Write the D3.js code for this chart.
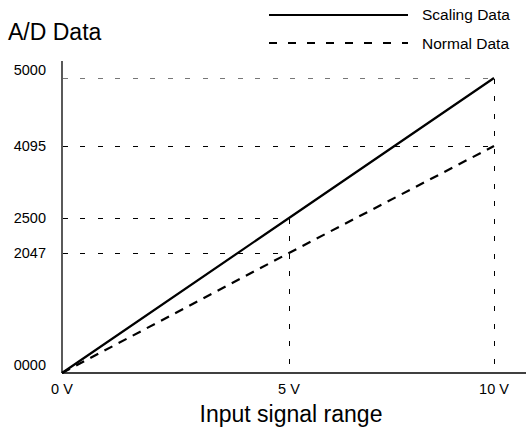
<!DOCTYPE html>
<html><head><meta charset="utf-8">
<script src="https://cdn.jsdelivr.net/npm/d3@7"></script>
<style>body{margin:0;background:#fff}svg{display:block}text{font-family:"Liberation Sans",Arial,sans-serif;fill:#000}</style>
</head><body><svg id="c" width="526" height="431"></svg>
<script>
const voltages = [0, 5, 10];
const voltageLabels = ["0 V", "5 V", "10 V"];
const scalingData = [0, 2500, 5000];
const normalData = [0, 2047, 4095];
const yTicks = [0, 2047, 2500, 4095, 5000];
const yTickLabels = ["0000", "2047", "2500", "4095", "5000"];

const svg = d3.select("#c");
// schematic (non-proportional) axes, as in the reference diagram
const x = d3.scaleLinear().domain([0, 5, 10]).range([62, 289, 494]);
const y = d3.scaleLinear().domain([0, 2047, 2500, 4095, 5000]).range([373, 253, 218, 146, 78]);

// guide lines
const guides = [];
voltages.slice(1).forEach((v, i) => {
  const top = Math.max(scalingData[i + 1], normalData[i + 1]);
  guides.push({x1: x(v), y1: y(top), x2: x(v), y2: y(0), c: "#000"});
});
[[2500, 5], [2047, 5], [4095, 10], [5000, 10]].forEach(([val, v]) => {
  guides.push({x1: x(0), y1: y(val), x2: x(v), y2: y(val), c: val === 5000 ? "#777" : "#000"});
});
svg.append("g").attr("shape-rendering", "crispEdges").selectAll("line").data(guides).join("line")
  .attr("x1", d => d.x1 + 0.5).attr("y1", d => d.y1 + 0.5).attr("x2", d => d.x2 + 0.5).attr("y2", d => d.y2 + 0.5)
  .attr("stroke", d => d.c).attr("stroke-width", 1).attr("stroke-dasharray", "5,12.5");

// axes
svg.append("line").attr("x1", 62).attr("x2", 62).attr("y1", 61).attr("y2", 373).attr("stroke", "#000").attr("stroke-width", 1.3);
svg.append("line").attr("x1", 62).attr("x2", 526).attr("y1", 373).attr("y2", 373).attr("stroke", "#000").attr("stroke-width", 1.3);

// tick labels
svg.append("g").selectAll("text").data(yTicks).join("text")
  .attr("x", 46)
  .attr("y", (d, i) => (i === 0 || i === yTicks.length - 1) ? y(d) - 3 : y(d) + 5)
  .attr("text-anchor", "end")
  .attr("font-size", 14.5).text((d, i) => yTickLabels[i]);
svg.append("g").selectAll("text").data(voltages).join("text")
  .attr("x", d => x(d)).attr("y", 394).attr("text-anchor", "middle")
  .attr("font-size", 14.5).text((d, i) => voltageLabels[i]);

// series
const line = d3.line().x((d, i) => x(voltages[i])).y(d => y(d));
svg.append("path").datum(normalData).attr("d", line).attr("fill", "none")
  .attr("stroke", "#000").attr("stroke-width", 2.2).attr("stroke-dasharray", "9,7");
svg.append("path").datum(scalingData).attr("d", line).attr("fill", "none")
  .attr("stroke", "#000").attr("stroke-width", 2.2);

// titles
svg.append("text").attr("x", 8).attr("y", 40).attr("font-size", 23).text("A/D Data");
svg.append("text").attr("x", 291).attr("y", 422).attr("text-anchor", "middle").attr("font-size", 23).text("Input signal range");

// legend
svg.append("line").attr("x1", 269).attr("x2", 408).attr("y1", 15).attr("y2", 15).attr("stroke", "#000").attr("stroke-width", 2.2);
svg.append("line").attr("x1", 269).attr("x2", 408).attr("y1", 43).attr("y2", 43).attr("stroke", "#000").attr("stroke-width", 2.2).attr("stroke-dasharray", "8,11");
svg.append("text").attr("x", 422).attr("y", 20).attr("font-size", 15.5).text("Scaling Data");
svg.append("text").attr("x", 422).attr("y", 49).attr("font-size", 15.5).text("Normal Data");
</script></body></html>
